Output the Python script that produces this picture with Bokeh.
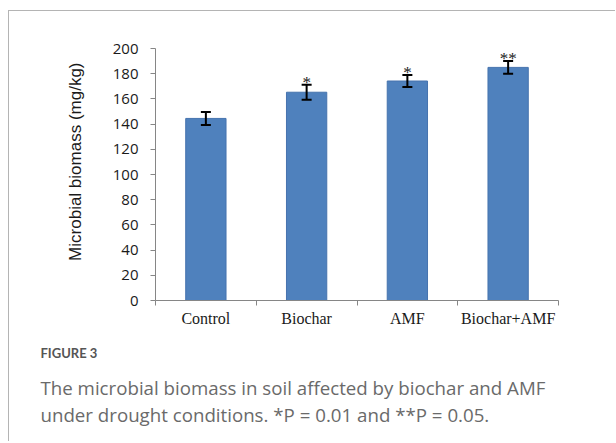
from bokeh.plotting import figure
from bokeh.models import Range1d, FixedTicker, Whisker, TeeHead, ColumnDataSource, Title
from bokeh.layouts import column
from bokeh.core.properties import value
from bokeh.embed import file_html
from bokeh.resources import INLINE

categories = ["Control", "Biochar", "AMF", "Biochar+AMF"]
biomass = [144.5, 165.3, 174.2, 185.0]
errors = [5.2, 6.0, 4.8, 5.1]
signif = ["", "*", "*", "**"]
y_ticks = [0, 20, 40, 60, 80, 100, 120, 140, 160, 180, 200]
y_label = "Microbial biomass (mg/kg)"
caption_head = "FIGURE 3"
caption_lines = ["The microbial biomass in soil affected by biochar and AMF",
                 "under drought conditions. *P = 0.01 and **P = 0.05."]

W = 606
H = 430

xs = [i + 0.5 for i in range(len(categories))]
src = ColumnDataSource(dict(
    x=xs, top=biomass,
    upper=[v + e for v, e in zip(biomass, errors)],
    lower=[v - e for v, e in zip(biomass, errors)],
    sig=signif,
))

p = figure(width=W, height=H, output_backend="svg", toolbar_location=None,
           x_range=Range1d(0, len(categories)), y_range=Range1d(0, 200),
           min_border_left=146, min_border_right=W - 549, min_border_top=37,
           min_border_bottom=H - 37 - 252)
p.outline_line_color = None
p.grid.visible = False
p.background_fill_color = "white"
p.border_fill_color = "white"

p.vbar(x="x", top="top", width=0.4, bottom=0, source=src,
       fill_color="#4F81BD", line_color="#4673AE", line_width=1)

w = Whisker(base="x", upper="upper", lower="lower", source=src, level="overlay",
            line_color="black", line_width=2,
            upper_head=TeeHead(size=10, line_width=2, line_color="black"),
            lower_head=TeeHead(size=10, line_width=2, line_color="black"))
p.add_layout(w)

p.text(x="x", y="upper", text="sig", source=src, text_align="center",
       text_baseline="middle", y_offset=-2, text_font=value("Liberation Serif"),
       text_font_size="17px", text_color="#1a1a1a")

axis_color = "#868686"
p.yaxis.ticker = FixedTicker(ticks=y_ticks)
p.yaxis.axis_line_color = axis_color
p.yaxis.major_tick_line_color = axis_color
p.yaxis.major_tick_out = 5
p.yaxis.major_tick_in = 0
p.yaxis.minor_tick_line_color = None
p.yaxis.major_label_text_font = "Open Sans"
p.yaxis.major_label_text_font_size = "15px"
p.yaxis.major_label_text_color = "#1a1a1a"
p.yaxis.major_label_standoff = 12

p.xaxis.ticker = FixedTicker(ticks=xs, minor_ticks=list(range(len(categories) + 1)))
p.xaxis.major_label_overrides = {x: c for x, c in zip(xs, categories)}
p.xaxis.axis_line_color = axis_color
p.xaxis.major_tick_line_color = None
p.xaxis.major_tick_out = 0
p.xaxis.major_tick_in = 0
p.xaxis.minor_tick_line_color = axis_color
p.xaxis.minor_tick_out = 5
p.xaxis.minor_tick_in = 0
p.xaxis.major_label_text_font = "Liberation Serif"
p.xaxis.major_label_text_font_size = "16px"
p.xaxis.major_label_text_color = "#1a1a1a"
p.xaxis.major_label_standoff = 4

# y axis title, placed as a side title so it can be offset along the axis
p.add_layout(Title(text=y_label, align="right", offset=14, standoff=50,
                   text_font="Liberation Sans", text_font_size="17px",
                   text_font_style="normal", text_color="#1a1a1a"), "left")

# caption below the chart
p.add_layout(Title(text=caption_head, align="left", offset=-115, standoff=27,
                   text_font="Lato", text_font_style="bold", text_font_size="13px",
                   text_color="#555555"), "below")
p.add_layout(Title(text="\n".join(caption_lines), align="left", offset=-115, standoff=0,
                   vertical_align="top", text_line_height=1.11,
                   text_font="Open Sans", text_font_style="normal",
                   text_font_size="18.7px", text_color="#6a6a6a"), "below")

layout = column(p, styles={"border-left": "1px solid #b4b4b4",
                           "border-top": "1px solid #b4b4b4",
                           "margin-top": "10px", "margin-left": "8px"})

open("out.html", "w").write(file_html(layout, INLINE))
